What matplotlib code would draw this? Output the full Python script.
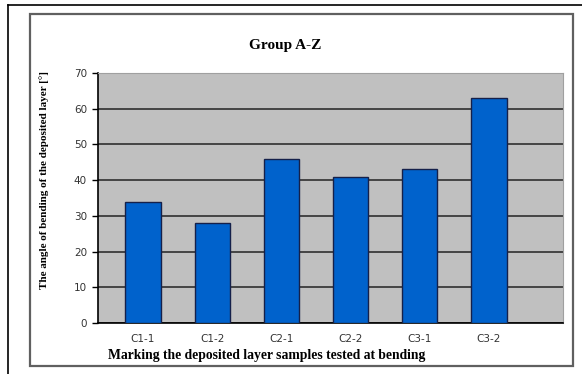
from matplotlib import pyplot as plt
from matplotlib.patches import Rectangle
from matplotlib.lines import Line2D

samples = ['C1-1', 'C1-2', 'C2-1', 'C2-2', 'C3-1', 'C3-2']
angles = [34, 28, 46, 41, 43, 63]
y_ticks = [0, 10, 20, 30, 40, 50, 60, 70]

W, H = 582, 374
fig = plt.figure(figsize=(W / 100, H / 100), dpi=100)

# black page frame (only top and left visible) + grey chart frame
fig.lines.append(Line2D([8 / W, 1, ], [1 - 5 / H, 1 - 5 / H], transform=fig.transFigure,
                        color='black', linewidth=1.2))
fig.lines.append(Line2D([8 / W, 8 / W], [1 - 5 / H, 0], transform=fig.transFigure,
                        color='black', linewidth=1.2))
fig.patches.append(Rectangle((30 / W, 1 - 366 / H), 543 / W, 352 / H, transform=fig.transFigure,
                             fill=False, edgecolor='#606060', linewidth=1.6))

ax = fig.add_axes([98 / W, 1 - 323 / H, 465 / W, 250 / H])
ax.set_facecolor('#c0c0c0')
ax.set_axisbelow(True)

x = range(len(samples))
ax.bar(x, angles, width=0.51, color='#0062cc', edgecolor='#15204a', linewidth=1, zorder=3)

ax.set_xlim(-0.65, 6.07)
ax.set_ylim(0, 70)
ax.set_yticks(y_ticks)
ax.yaxis.grid(True, color='#3a3a3a', linewidth=1.3)
ax.set_xticks(list(x))
ax.set_xticklabels(samples, fontsize=7.5, color='#333333', family='DejaVu Sans')
ax.tick_params(axis='x', length=0, pad=8)
ax.tick_params(axis='y', labelsize=7.5, labelcolor='#333333', length=4, width=1, direction='out', pad=4)

ax.spines['left'].set_color('black')
ax.spines['bottom'].set_color('black')
ax.spines['left'].set_linewidth(1.2)
ax.spines['bottom'].set_linewidth(1.2)
ax.spines['top'].set_color('#a0a0a0')
ax.spines['right'].set_color('#a0a0a0')

fig.text(285 / W, 1 - 45 / H, 'Group A-Z', ha='center', va='center',
         fontsize=11, fontweight='bold', family='Liberation Serif')
fig.text(108 / W, 1 - 355 / H, 'Marking the deposited layer samples tested at bending',
         ha='left', va='center', fontsize=9.8, fontweight='bold', family='Liberation Serif')
fig.text(44 / W, 1 - 180 / H, 'The angle of bending of the deposited layer [°]',
         ha='center', va='center', rotation=90, fontsize=8, fontweight='bold',
         family='Liberation Serif')

plt.savefig('out.png', dpi=100)
